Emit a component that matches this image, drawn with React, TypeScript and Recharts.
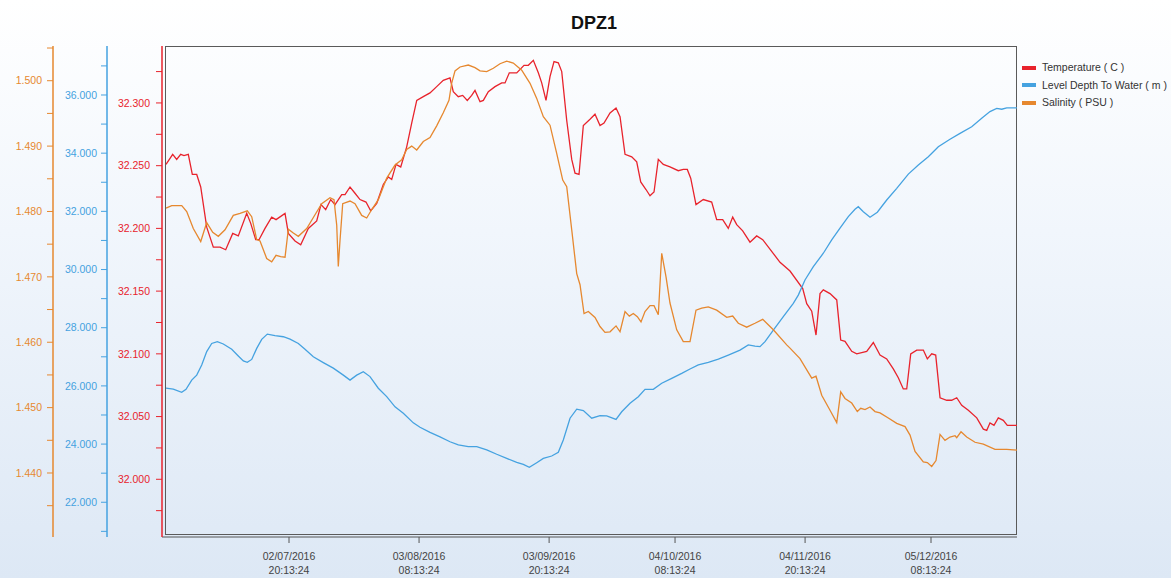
import React from 'react';
import { LineChart, Line, XAxis, YAxis } from 'recharts';

// x values: days since 2016-06-01 00:00
const tempDays = [
  2.05, 3.67, 4.64, 5.61, 6.41, 7.45, 8.42, 9.49, 10.46, 11.91,
  13.51, 15.13, 16.51, 18.21, 19.56, 21.6, 22.57, 23.78, 24.58, 26.03,
  27.65, 28.7, 30.88, 31.68, 33.3, 34.68, 36.52, 38.55, 39.59, 40.73,
  41.94, 42.99, 44.61, 45.41, 46.62, 47.83, 49.04, 50.49, 51.63, 53.09,
  54.68, 55.9, 56.72, 57.76, 58.9, 60.35, 61.56, 62.78, 64.37, 65.99,
  67.61, 69.21, 70.83, 71.63, 72.84, 73.91, 75.02, 76.09, 76.89, 78.11,
  78.91, 80.12, 81.74, 83.36, 84.16, 85.2, 87.0, 88.76, 89.81, 91.02,
  92.23, 93.05, 94.09, 95.06, 96.03, 97.07, 97.9, 99.11, 100.32, 101.12,
  102.09, 103.13, 104.75, 105.96, 107.17, 108.14, 109.6, 111.05, 112.02, 113.23,
  114.85, 116.06, 117.03, 118.31, 119.28, 120.25, 121.29, 122.5, 124.12, 126.13,
  127.34, 128.31, 129.14, 130.42, 132.19, 134.22, 135.43, 136.89, 138.24, 139.31,
  140.28, 141.73, 143.5, 145.12, 146.58, 150.77, 153.19, 156.27, 157.24, 158.45,
  159.49, 160.46, 161.26, 162.88, 164.51, 165.47, 166.51, 168.14, 169.35, 171.77,
  173.37, 174.99, 176.61, 178.21, 179.42, 180.63, 181.46, 182.43, 183.88, 185.48,
  186.45, 187.51, 188.48, 189.53, 191.15, 192.36, 193.57, 194.78, 196.38, 198.42,
  200.02, 200.84, 201.63, 202.6, 203.64, 204.85, 205.82, 208.17,
];
const tempValues = [
  32.251, 32.259, 32.255, 32.259, 32.258, 32.259, 32.243, 32.243, 32.233, 32.201,
  32.185, 32.185, 32.183, 32.196, 32.194, 32.212, 32.204, 32.191, 32.191, 32.2,
  32.209, 32.207, 32.212, 32.196, 32.19, 32.187, 32.2, 32.206, 32.219, 32.215,
  32.223, 32.219, 32.227, 32.227, 32.233, 32.228, 32.223, 32.221, 32.214, 32.22,
  32.235, 32.241, 32.239, 32.251, 32.249, 32.265, 32.284, 32.302, 32.305, 32.308,
  32.313, 32.318, 32.32, 32.309, 32.305, 32.306, 32.302, 32.306, 32.31, 32.301,
  32.302, 32.309, 32.313, 32.316, 32.316, 32.324, 32.324, 32.33, 32.33, 32.334,
  32.324, 32.316, 32.302, 32.321, 32.333, 32.332, 32.325, 32.286, 32.255, 32.244,
  32.243, 32.282, 32.287, 32.291, 32.282, 32.284, 32.292, 32.296, 32.289, 32.259,
  32.257, 32.253, 32.237, 32.231, 32.226, 32.229, 32.255, 32.251, 32.249, 32.246,
  32.247, 32.247, 32.24, 32.219, 32.223, 32.221, 32.207, 32.207, 32.2, 32.209,
  32.203, 32.198, 32.189, 32.194, 32.191, 32.173, 32.166, 32.152, 32.14, 32.134,
  32.115, 32.148, 32.151, 32.148, 32.143, 32.111, 32.11, 32.102, 32.1, 32.102,
  32.109, 32.099, 32.096, 32.088, 32.081, 32.072, 32.072, 32.1, 32.103, 32.103,
  32.096, 32.1, 32.099, 32.065, 32.063, 32.063, 32.065, 32.059, 32.055, 32.049,
  32.04, 32.039, 32.045, 32.043, 32.049, 32.047, 32.043, 32.043,
];

const levelDays = [
  2.05, 3.82, 5.85, 6.9, 8.28, 9.49, 10.7, 11.91, 13.12, 14.48,
  15.93, 17.97, 19.56, 20.78, 21.74, 22.81, 24.02, 25.23, 26.59, 28.45,
  30.46, 32.09, 34.1, 35.72, 37.73, 40.15, 42.57, 45.0, 46.62, 48.24,
  49.84, 51.46, 53.47, 55.51, 57.52, 59.53, 61.95, 63.57, 66.0, 68.42,
  70.84, 72.85, 75.27, 77.31, 79.73, 82.15, 84.57, 87.0, 88.59, 90.05,
  91.84, 93.44, 95.47, 97.07, 98.28, 99.91, 101.53, 103.13, 105.16, 107.17,
  108.79, 111.05, 112.43, 114.44, 116.45, 118.07, 120.08, 122.12, 124.54, 126.96,
  128.97, 130.98, 133.4, 135.83, 138.25, 141.08, 143.09, 144.71, 145.92, 147.14,
  149.15, 151.57, 153.99, 155.2, 156.82, 158.84, 161.26, 163.29, 165.3, 167.31,
  168.93, 169.73, 170.95, 172.57, 174.34, 176.61, 179.04, 181.85, 184.27, 186.69,
  189.11, 191.94, 194.37, 197.2, 199.62, 201.63, 203.26, 204.47, 205.68, 208.17,
];
const levelValues = [
  25.92, 25.89, 25.78, 25.88, 26.2, 26.37, 26.72, 27.18, 27.46, 27.52,
  27.44, 27.26, 27.03, 26.86, 26.81, 26.91, 27.29, 27.6, 27.78, 27.73,
  27.69, 27.61, 27.46, 27.26, 27.0, 26.8, 26.61, 26.37, 26.2, 26.37,
  26.49, 26.32, 25.92, 25.63, 25.28, 25.06, 24.73, 24.58, 24.4, 24.25,
  24.08, 23.97, 23.91, 23.91, 23.8, 23.65, 23.51, 23.37, 23.3, 23.2,
  23.36, 23.51, 23.59, 23.72, 24.14, 24.89, 25.2, 25.15, 24.89, 24.98,
  24.97, 24.85, 25.11, 25.4, 25.63, 25.88, 25.88, 26.09, 26.26, 26.43,
  26.58, 26.72, 26.81, 26.92, 27.06, 27.23, 27.41, 27.37, 27.35, 27.52,
  27.92, 28.38, 28.84, 29.12, 29.64, 30.1, 30.56, 31.02, 31.42, 31.82,
  32.07, 32.16, 31.99, 31.8, 31.97, 32.39, 32.79, 33.28, 33.59, 33.88,
  34.22, 34.48, 34.68, 34.91, 35.2, 35.43, 35.54, 35.51, 35.56, 35.56,
];

const salinityDays = [
  2.05, 3.43, 5.86, 7.07, 8.66, 10.46, 11.91, 13.36, 14.72, 16.34,
  18.35, 19.98, 21.74, 22.81, 24.02, 24.82, 26.44, 27.65, 28.7, 29.83,
  30.88, 31.68, 32.89, 34.1, 36.13, 38.14, 39.76, 41.77, 42.74, 43.4,
  43.78, 44.2, 44.85, 46.62, 47.83, 49.45, 50.66, 51.88, 53.48, 55.51,
  57.52, 59.14, 60.35, 61.56, 62.78, 64.37, 65.99, 67.61, 69.21, 70.59,
  71.24, 72.05, 73.26, 75.27, 76.89, 78.11, 79.73, 81.33, 82.95, 84.57,
  86.17, 88.21, 90.22, 91.84, 93.44, 95.06, 96.68, 98.14, 99.11, 100.32,
  101.53, 102.33, 103.3, 104.34, 105.96, 107.17, 108.38, 109.6, 111.05, 112.02,
  113.23, 114.27, 115.24, 116.21, 117.1, 118.07, 119.28, 120.25, 121.29, 122.12,
  123.16, 124.12, 125.75, 127.34, 128.97, 130.42, 131.8, 133.4, 135.43, 137.86,
  139.31, 140.67, 142.7, 144.71, 146.58, 149.15, 152.39, 153.19, 155.61, 158.45,
  159.49, 160.87, 162.88, 164.51, 165.47, 166.51, 168.14, 169.49, 170.32, 171.36,
  172.57, 173.78, 174.99, 177.0, 179.04, 181.05, 182.26, 183.47, 185.48, 186.45,
  187.51, 188.55, 189.53, 190.73, 191.94, 193.16, 193.57, 194.61, 195.99, 198.0,
  200.02, 202.84, 205.68, 208.17,
];
const salinityValues = [
  1.4805, 1.4809, 1.4809, 1.48, 1.4774, 1.4754, 1.4783, 1.4768, 1.4762, 1.4772,
  1.4794, 1.4797, 1.4801, 1.4792, 1.4757, 1.4755, 1.4728, 1.4723, 1.4733, 1.4731,
  1.473, 1.4773, 1.4767, 1.4762, 1.4774, 1.4795, 1.4812, 1.4821, 1.4818, 1.4779,
  1.4716, 1.4756, 1.4812, 1.4816, 1.4812, 1.4794, 1.479, 1.4803, 1.4818, 1.4851,
  1.4871, 1.4879, 1.4895, 1.49, 1.4894, 1.4907, 1.4913, 1.4931, 1.4951, 1.497,
  1.4996, 1.5015, 1.5021, 1.5024, 1.502, 1.5015, 1.5014, 1.5019, 1.5026, 1.503,
  1.5027, 1.5016, 1.4996, 1.4973, 1.4945, 1.4932, 1.4889, 1.4848, 1.4838, 1.4772,
  1.4705, 1.4688, 1.4644, 1.4647, 1.4638, 1.4624, 1.4615, 1.4616, 1.4625, 1.4616,
  1.4647, 1.464, 1.4644, 1.4639, 1.4631, 1.4647, 1.4656, 1.4656, 1.4642, 1.4736,
  1.47, 1.466, 1.4619, 1.4601, 1.4601, 1.4649, 1.4652, 1.4654, 1.4649, 1.4638,
  1.464, 1.4629, 1.4623, 1.4629, 1.4635, 1.4619, 1.4596, 1.4591, 1.4575, 1.4545,
  1.4548, 1.4519, 1.4496, 1.4477, 1.4524, 1.4514, 1.4507, 1.4494, 1.4499, 1.4497,
  1.4501, 1.4494, 1.4492, 1.4484, 1.4476, 1.4471, 1.4458, 1.4433, 1.4417, 1.4416,
  1.441, 1.4419, 1.4459, 1.445, 1.4455, 1.4457, 1.4454, 1.4463, 1.4455, 1.4447,
  1.4444, 1.4436, 1.4436, 1.4435,
];

const xTickDays = [31.843, 63.343, 94.843, 125.343, 156.843, 187.343];
const xTickDates = ['02/07/2016', '03/08/2016', '03/09/2016', '04/10/2016', '04/11/2016', '05/12/2016'];
const xTickTimes = ['20:13:24', '08:13:24', '20:13:24', '08:13:24', '20:13:24', '08:13:24'];

const salinityTicks = [1.435, 1.44, 1.445, 1.45, 1.455, 1.46, 1.465, 1.47, 1.475, 1.48, 1.485, 1.49, 1.495, 1.5, 1.505];
const levelTicks = [21, 22, 23, 24, 25, 26, 27, 28, 29, 30, 31, 32, 33, 34, 35, 36, 37];
const tempTicks = [31.975, 32, 32.025, 32.05, 32.075, 32.1, 32.125, 32.15, 32.175, 32.2, 32.225, 32.25, 32.275, 32.3, 32.325];

const RED = '#e8232c';
const BLUE = '#45a2e0';
const ORANGE = '#e6882f';

const seriesNames = ['Temperature ( C )', 'Level Depth To Water ( m )', 'Salinity ( PSU )'];
const seriesColors = [RED, BLUE, ORANGE];

const toRows = (days: number[], vals: number[]) => days.map((d, i) => ({ day: d, v: vals[i] }));
const tempData = toRows(tempDays, tempValues);
const levelData = toRows(levelDays, levelValues);
const salinityData = toRows(salinityDays, salinityValues);

const isMultiple = (v: number, step: number) => Math.abs(v / step - Math.round(v / step)) < 1e-6;

// axis ids are prefixed so the stacking order is temp (inner), level, salinity (outer)
const TEMP_AXIS = 'a_temp';
const LEVEL_AXIS = 'b_level';
const SAL_AXIS = 'c_sal';

function DateTick(props: any) {
  const { x, y, payload } = props;
  const i = xTickDays.indexOf(payload.value);
  return (
    <text x={x} y={y} textAnchor="middle" fill="#444" fontSize={10.5}>
      <tspan x={x} dy={15}>{xTickDates[i]}</tspan>
      <tspan x={x} dy={14}>{xTickTimes[i]}</tspan>
    </text>
  );
}

export default function App() {
  return (
    <div
      style={{
        position: 'absolute',
        left: 0,
        top: 0,
        width: 1171,
        height: 578,
        background: 'linear-gradient(to bottom, #ffffff 0%, #f1f6fc 40%, #dde8f5 100%)',
        fontFamily: "'Liberation Sans', Arial, sans-serif",
      }}
    >
      <div style={{ position: 'absolute', left: 559, top: 13, width: 70, textAlign: 'center', fontWeight: 'bold', fontSize: 18, color: '#111' }}>
        DPZ1
      </div>
      <div style={{ position: 'absolute', left: 165, top: 46, width: 850, height: 487, border: '1.5px solid #5a5a5a' }} />
      <div style={{ position: 'absolute', left: 1022, top: 59, fontSize: 10.5, color: '#333', lineHeight: '17.5px' }}>
        {seriesNames.map((n, i) => (
          <div key={n} style={{ display: 'flex', alignItems: 'center' }}>
            <span style={{ display: 'inline-block', width: 14, height: 4, background: seriesColors[i], marginRight: 6 }} />
            {n}
          </div>
        ))}
      </div>
      <LineChart width={1171} height={578} margin={{ top: 46, right: 154, bottom: 0, left: 0 }} style={{ position: 'absolute', left: 0, top: 0 }}>
        <XAxis
          dataKey="day"
          type="number"
          domain={[1.08, 208.17]}
          ticks={xTickDays}
          interval={0}
          height={41}
          tick={<DateTick />}
          axisLine={{ stroke: '#555' }}
          tickLine={{ stroke: '#555' }}
          allowDataOverflow
        />
        <YAxis
          yAxisId={TEMP_AXIS}
          orientation="left"
          width={55}
          domain={[31.954, 32.3454]}
          ticks={tempTicks}
          interval={0}
          allowDataOverflow
          tickFormatter={(v: number) => (isMultiple(v, 0.05) ? v.toFixed(3) : '')}
          tick={{ fill: RED, fontSize: 10.5 }}
          tickMargin={6}
          axisLine={{ stroke: RED, strokeWidth: 1.5 }}
          tickLine={{ stroke: RED }}
        />
        <YAxis
          yAxisId={LEVEL_AXIS}
          orientation="left"
          width={54}
          domain={[20.806, 37.684]}
          ticks={levelTicks}
          interval={0}
          allowDataOverflow
          tickFormatter={(v: number) => (isMultiple(v, 2) ? v.toFixed(3) : '')}
          tick={{ fill: BLUE, fontSize: 10.5 }}
          tickMargin={4}
          axisLine={{ stroke: BLUE, strokeWidth: 1.5 }}
          tickLine={{ stroke: BLUE }}
        />
        <YAxis
          yAxisId={SAL_AXIS}
          orientation="left"
          width={53}
          domain={[1.43021, 1.50531]}
          ticks={salinityTicks}
          interval={0}
          allowDataOverflow
          tickFormatter={(v: number) => (isMultiple(v, 0.01) ? v.toFixed(3) : '')}
          tick={{ fill: ORANGE, fontSize: 10.5 }}
          tickMargin={5}
          axisLine={{ stroke: ORANGE, strokeWidth: 1.5 }}
          tickLine={{ stroke: ORANGE }}
        />
        <Line
          yAxisId={TEMP_AXIS}
          data={tempData}
          dataKey="v"
          name={seriesNames[0]}
          stroke={RED}
          strokeWidth={1.3}
          dot={false}
          isAnimationActive={false}
        />
        <Line
          yAxisId={LEVEL_AXIS}
          data={levelData}
          dataKey="v"
          name={seriesNames[1]}
          stroke={BLUE}
          strokeWidth={1.3}
          dot={false}
          isAnimationActive={false}
        />
        <Line
          yAxisId={SAL_AXIS}
          data={salinityData}
          dataKey="v"
          name={seriesNames[2]}
          stroke={ORANGE}
          strokeWidth={1.3}
          dot={false}
          isAnimationActive={false}
        />
      </LineChart>
    </div>
  );
}
